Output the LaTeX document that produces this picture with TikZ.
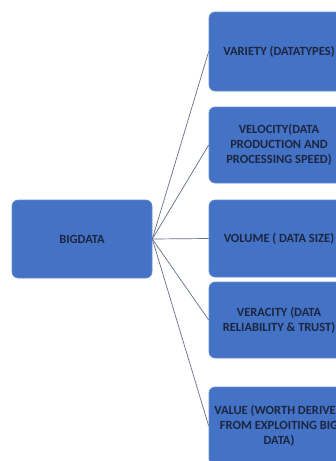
\documentclass[tikz,border=0pt]{standalone}
\usepackage{fontspec}
\setmainfont{Carlito}
\definecolor{boxblue}{HTML}{4472C4}
\definecolor{boxtext}{HTML}{1C2541}
\definecolor{linkgray}{HTML}{67718F}
\tikzset{
  vbox/.style={rectangle,rounded corners=6pt,fill=boxblue,draw=boxblue!80!white,
    line width=0.6pt,text=boxtext,font=\bfseries\fontsize{12.5}{15}\selectfont,
    align=center,inner sep=2pt},
  link/.style={draw=linkgray,line width=0.7pt}
}
\begin{document}
\begin{tikzpicture}[x=1pt,y=-1pt]
  \useasboundingbox (0,0) rectangle (336,461);
  \clip (0,0) rectangle (336,461);
  \fill[white] (0,0) rectangle (336,461);

  \node[vbox,minimum width=140pt,minimum height=78pt] (big) at (82,239) {BIGDATA};

  \node[vbox,minimum width=140pt,minimum height=79pt] (variety) at (279,51.5) {VARIETY (DATATYPES)};
  \node[vbox,minimum width=140pt,minimum height=76pt] (velocity) at (279,145) {VELOCITY(DATA\\PRODUCTION AND\\PROCESSING SPEED)};
  \node[vbox,minimum width=140pt,minimum height=77pt] (volume) at (279,238.5) {VOLUME ( DATA SIZE)};
  \node[vbox,minimum width=140pt,minimum height=76pt] (veracity) at (279,320) {VERACITY (DATA\\RELIABILITY \& TRUST)};
  \node[vbox,minimum width=140pt,minimum height=78pt] (value) at (279,426) {VALUE (WORTH DERIVED\\FROM EXPLOITING BIG\\DATA)};

  \draw[link] (big.east) -- (variety.west);
  \draw[link] (big.east) -- (velocity.west);
  \draw[link] (big.east) -- (volume.west);
  \draw[link] (big.east) -- (veracity.west);
  \draw[link] (big.east) -- (value.west);
\end{tikzpicture}
\end{document}
